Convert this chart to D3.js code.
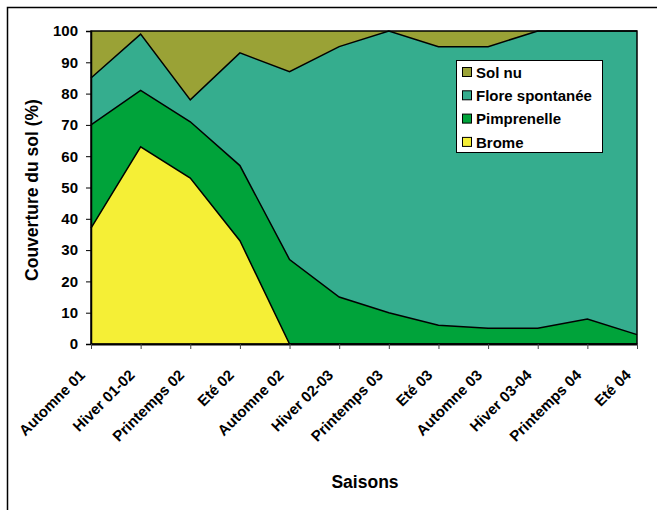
<!DOCTYPE html>
<html><head><meta charset="utf-8">
<script src="https://cdn.jsdelivr.net/npm/d3@7"></script>
<style>body{margin:0;background:#fff}svg{display:block}text{font-family:"Liberation Sans",Arial,sans-serif;font-weight:bold;fill:#000}</style>
</head><body><svg id="c" width="657" height="510"></svg>
<script>
const categories = ["Automne 01","Hiver 01-02","Printemps 02","Eté 02","Automne 02","Hiver 02-03","Printemps 03","Eté 03","Automne 03","Hiver 03-04","Printemps 04","Eté 04"];
const brome       = [37, 63, 53, 33, 0, 0, 0, 0, 0, 0, 0, 0];
const pimprenelle = [33, 18, 18, 24, 27, 15, 10, 6, 5, 5, 8, 3];
const flore       = [15, 18, 7, 36, 60, 80, 90, 89, 90, 95, 92, 97];
const solNu       = [15, 1, 22, 7, 13, 5, 0, 5, 5, 0, 0, 0];
const seriesNames = ["Brome","Pimprenelle","Flore spontanée","Sol nu"];
const seriesColors = ["#F5EF36","#00A33A","#35AD8E","#9AA236"];
const yTicks = [0,10,20,30,40,50,60,70,80,90,100];

const svg = d3.select("#c");
svg.append("rect").attr("x",7.5).attr("y",7.5).attr("width",700).attr("height",600)
  .attr("fill","none").attr("stroke","#000").attr("stroke-width",1.5);

const L=91,R=637,T=31,B=344;
const x = d3.scalePoint().domain(categories).range([L,R]);
const y = d3.scaleLinear().domain([0,100]).range([B,T]);

const rows = categories.map((c,i)=>({cat:c, "Brome":brome[i], "Pimprenelle":pimprenelle[i], "Flore spontanée":flore[i], "Sol nu":solNu[i]}));
const stack = d3.stack().keys(seriesNames)(rows);
const area = d3.area().x(d=>x(d.data.cat)).y0(d=>y(d[0])).y1(d=>y(Math.min(100,d[1])));
const line = d3.line().x(d=>x(d.data.cat)).y(d=>y(Math.min(100,d[1])));

svg.append("rect").attr("x",L).attr("y",T).attr("width",R-L).attr("height",B-T).attr("fill","#9AA236");
stack.forEach((s,i)=>{
  svg.append("path").datum(s).attr("d",area).attr("fill",seriesColors[i]).attr("stroke","none");
});
stack.forEach((s,i)=>{
  if(i<3) svg.append("path").datum(s).attr("d",line).attr("fill","none").attr("stroke","#000").attr("stroke-width",1.5);
});
svg.append("rect").attr("x",L).attr("y",T).attr("width",R-L).attr("height",B-T).attr("fill","none").attr("stroke","#000").attr("stroke-width",1.5);

const ya = svg.append("g").attr("transform",`translate(${L},0)`)
  .call(d3.axisLeft(y).tickValues(yTicks).tickSize(5).tickPadding(8));
ya.select(".domain").attr("stroke","#000").attr("stroke-width",1.5);
ya.selectAll("text").style("font-size","15px").style("font-family","Liberation Sans, Arial, sans-serif").style("font-weight","bold");

const xa = svg.append("g").attr("transform",`translate(0,${B})`)
  .call(d3.axisBottom(x).tickSize(5).tickSizeOuter(0).tickFormat(""));
xa.select(".domain").attr("stroke","#000").attr("stroke-width",2);
xa.selectAll(".tick line").attr("stroke","#444");

svg.append("g").selectAll("text").data(categories).join("text")
  .attr("transform",d=>`translate(${x(d)-5},${B+32}) rotate(-45)`)
  .attr("text-anchor","end").style("font-size","15px").text(d=>d);

svg.append("text").attr("transform","translate(38,190) rotate(-90)").attr("text-anchor","middle")
  .style("font-size","17.5px").text("Couverture du sol (%)");
svg.append("text").attr("x",365).attr("y",488).attr("text-anchor","middle").style("font-size","17.5px").text("Saisons");

const lg = svg.append("g");
lg.append("rect").attr("x",456.5).attr("y",60.5).attr("width",146).attr("height",92).attr("fill","#fff").attr("stroke","#000");
const legendOrder = [3,2,1,0];
legendOrder.forEach((si,k)=>{
  const cy = 72.5 + k*23.3;
  lg.append("rect").attr("x",462.5).attr("y",cy-5).attr("width",9).attr("height",9).attr("fill",seriesColors[si]).attr("stroke","#000");
  lg.append("text").attr("x",476).attr("y",cy).attr("dy","0.35em").style("font-size","15px").text(seriesNames[si]);
});
</script></body></html>
